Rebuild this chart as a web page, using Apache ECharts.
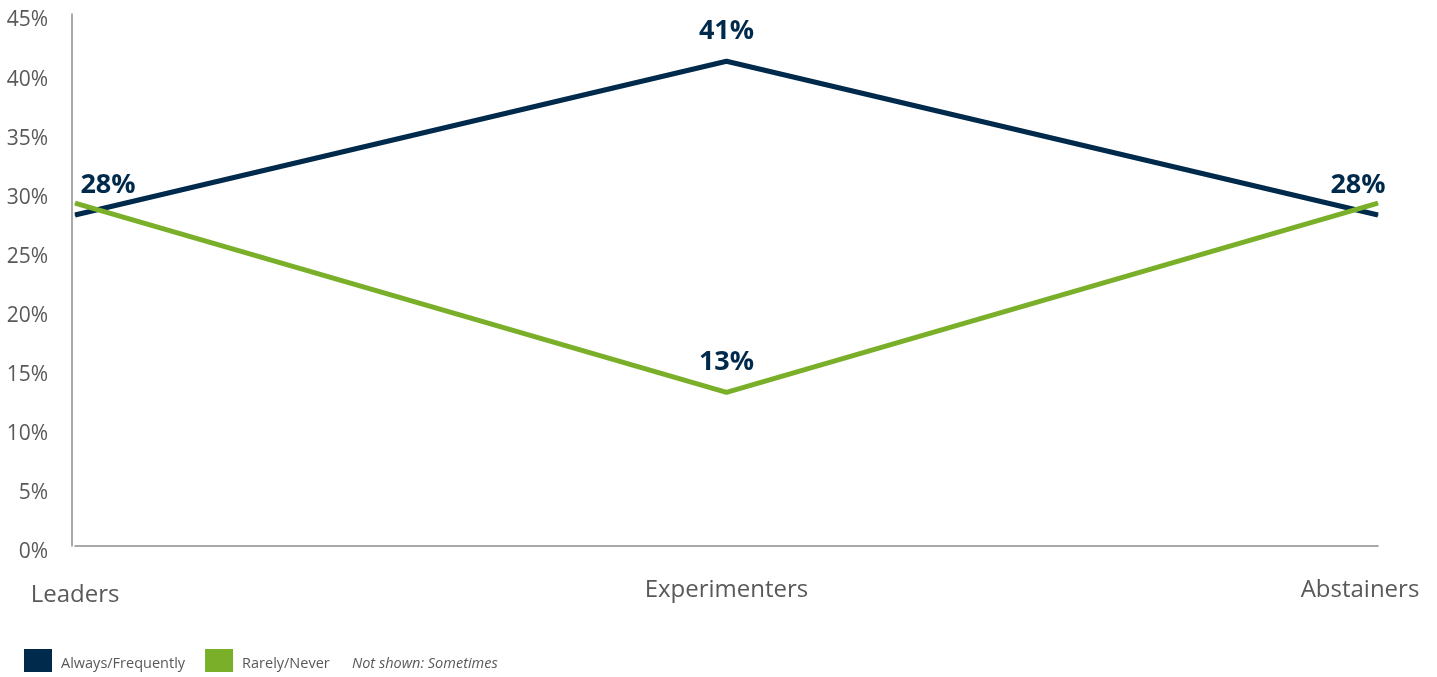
<!DOCTYPE html>
<html>
<head>
<meta charset="utf-8">
<script src="https://cdn.jsdelivr.net/npm/echarts@6/dist/echarts.min.js"></script>
<style>
html,body{margin:0;padding:0;background:#fff;}
#chart{width:1437px;height:677px;}
</style>
</head>
<body>
<div id="chart"></div>
<script>
var categories = ['Leaders', 'Experimenters', 'Abstainers'];
var alwaysFrequently = [28, 41, 28];
var rarelyNever = [29, 13, 29];
var seriesNames = ['Always/Frequently', 'Rarely/Never'];
var noteText = 'Not shown: Sometimes';

var NAVY = '#002a4c';
var GREEN = '#7aaf2a';
var GRAY = '#595959';
var FONT = '"Open Sans", "Noto Sans", sans-serif';

var chart = echarts.init(document.getElementById('chart'));

var navyData = alwaysFrequently.map(function (v, i) {
  var d = { value: v };
  if (i === 0) d.label = { show: true, offset: [33, 0] };
  if (i === alwaysFrequently.length - 1) d.label = { show: true, offset: [-20, 0] };
  return d;
});
var greenData = rarelyNever.map(function (v, i) {
  return { value: v, label: { show: i === 1 } };
});

function labelStyle() {
  return {
    show: true,
    position: 'top',
    distance: 16,
    color: NAVY,
    fontFamily: FONT,
    fontWeight: 'bold',
    fontSize: 27,
    formatter: '{c}%'
  };
}

chart.setOption({
  animation: false,
  backgroundColor: '#fff',
  grid: { left: 75, right: 59, top: 14, bottom: 131, containLabel: false },
  xAxis: {
    type: 'category',
    data: categories,
    boundaryGap: false,
    axisLine: { lineStyle: { color: '#8c8c8c', width: 1.5 } },
    axisTick: { show: false },
    axisLabel: {
      margin: 32,
      fontFamily: FONT,
      fontSize: 24,
      color: GRAY,
      formatter: function (v, i) {
        if (i === 0) return '{l|' + v + '}';
        if (i === categories.length - 1) return '{r|' + v + '}';
        return '{m|' + v + '}';
      },
      rich: {
        l: { fontFamily: FONT, fontSize: 24, color: GRAY, padding: [5, 0, 0, 0] },
        m: { fontFamily: FONT, fontSize: 24, color: GRAY },
        r: { fontFamily: FONT, fontSize: 24, color: GRAY, padding: [0, 36, 0, 0] }
      }
    }
  },
  yAxis: {
    type: 'value',
    min: 0,
    max: 45,
    interval: 5,
    offset: 3,
    axisLine: { show: true, lineStyle: { color: '#8c8c8c', width: 1.5 } },
    axisTick: { show: false },
    splitLine: { show: false },
    axisLabel: {
      margin: 24,
      color: GRAY,
      formatter: function (v) { return '{a|' + v + '%}'; },
      rich: {
        a: { fontFamily: FONT, fontSize: 21, color: GRAY, padding: [13, 0, 0, 0] }
      }
    }
  },
  legend: {
    left: 19,
    top: 644,
    itemWidth: 28,
    itemHeight: 23,
    itemGap: 20,
    icon: 'rect',
    data: seriesNames,
    formatter: function (name) { return '{t|' + name + '}'; },
    textStyle: {
      fontFamily: FONT, fontSize: 14.5, color: GRAY,
      rich: { t: { fontFamily: FONT, fontSize: 14.5, color: GRAY, padding: [6, 0, 0, 4] } }
    }
  },
  graphic: [{
    type: 'text',
    left: 352,
    top: 656,
    style: {
      text: noteText,
      fontFamily: FONT,
      fontStyle: 'italic',
      fontSize: 14.5,
      fill: GRAY
    }
  }],
  series: [
    {
      name: seriesNames[0],
      type: 'line',
      data: navyData,
      symbol: 'circle',
      symbolSize: 1,
      showSymbol: true,
      color: NAVY,
      itemStyle: { color: NAVY },
      lineStyle: { color: NAVY, width: 5 },
      label: labelStyle(),
      z: 2
    },
    {
      name: seriesNames[1],
      type: 'line',
      data: greenData,
      symbol: 'circle',
      symbolSize: 1,
      showSymbol: true,
      color: GREEN,
      itemStyle: { color: GREEN },
      lineStyle: { color: GREEN, width: 5 },
      label: labelStyle(),
      z: 3
    }
  ]
});
</script>
</body>
</html>
